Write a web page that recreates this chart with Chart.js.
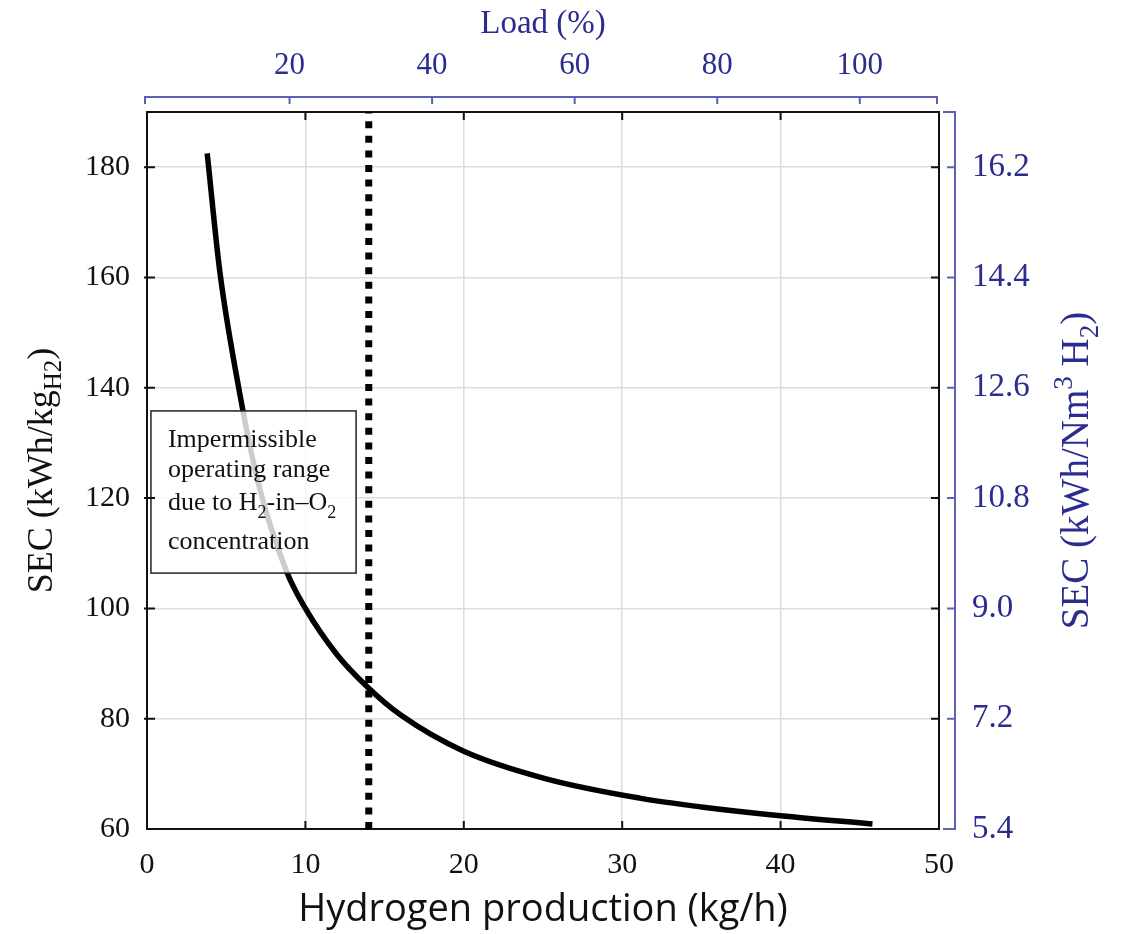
<!DOCTYPE html>
<html>
<head>
<meta charset="utf-8">
<script src="https://cdn.jsdelivr.net/npm/chart.js@4.4.1/dist/chart.umd.min.js"></script>
<style>
  html, body { margin: 0; padding: 0; background: #fff; }
  #wrap { width: 1127px; height: 934px; }
</style>
</head>
<body>
<div id="wrap"><canvas id="secChart" width="1127" height="934"></canvas></div>
<script>
// Datos (producción de H2 en kg/h y SEC en kWh/kg)
const prodKg = [3.8, 4.6, 5.7, 7.0, 8.8, 10.0, 12.0, 13.9, 16.0, 20.0, 25.2, 31.1, 35.0, 40.0, 45.8];
const secKg = [182.5, 161.0, 141.4, 123.0, 106.8, 100.0, 91.6, 85.8, 80.7, 74.1, 69.1, 65.6, 64.0, 62.4, 60.9];
const limitKg = 14; // límite por concentración de H2 en O2

// Ticks de los cuatro ejes
const xTicks = [0, 10, 20, 30, 40, 50];
const loadTicks = [20, 40, 60, 80, 100];
const secKgTicks = [60, 80, 100, 120, 140, 160, 180];
const secNmTicks = [5.4, 7.2, 9.0, 10.8, 12.6, 14.4, 16.2];

const xMin = 0, xMax = 50;
const yMin = 60, yMax = 190;
const kgAtFullLoad = 45;   // 100 % de carga
const kgToNm3 = 0.09;      // kWh/kg -> kWh/Nm3

const SERIF = "'Liberation Serif', 'Times New Roman', serif";
const BLUE_TXT = '#2b2d8e';
const BLUE_LINE = '#5d60b6';

function toTicks(list) {
    return list.map(v => ({ value: v }));
}

// Texto con subíndices / superíndices
function richText(ctx, parts, x, y, centered) {
    let total = 0;
    parts.forEach(p => {
        ctx.font = p.s + 'px ' + SERIF;
        p.w = ctx.measureText(p.t).width;
        total += p.w;
    });
    let cx = centered ? x - total / 2 : x;
    parts.forEach(p => {
        ctx.font = p.s + 'px ' + SERIF;
        ctx.fillText(p.t, cx, y + (p.dy || 0));
        cx += p.w;
    });
}

const decoPlugin = {
    id: 'deco',
    afterDatasetsDraw(chart) {
        const ctx = chart.ctx;
        const sx = chart.scales.x, sy = chart.scales.y;
        // caja de texto semitransparente
        const l = sx.getPixelForValue(0.25), r = sx.getPixelForValue(13.2);
        const t = sy.getPixelForValue(135.8), b = sy.getPixelForValue(106.4);
        ctx.save();
        ctx.fillStyle = 'rgba(255,255,255,0.8)';
        ctx.fillRect(l, t, r - l, b - t);
        ctx.strokeStyle = '#222';
        ctx.lineWidth = 1.5;
        ctx.strokeRect(l, t, r - l, b - t);
        ctx.fillStyle = '#111';
        ctx.textBaseline = 'alphabetic';
        const tx = l + 17;
        richText(ctx, [{ t: 'Impermissible', s: 26 }], tx, t + 36, false);
        richText(ctx, [{ t: 'operating range', s: 26 }], tx, t + 66, false);
        richText(ctx, [
            { t: 'due to H', s: 26 }, { t: '2', s: 18, dy: 8 },
            { t: '-in\u2013O', s: 26 }, { t: '2', s: 18, dy: 8 }
        ], tx, t + 99, false);
        richText(ctx, [{ t: 'concentration', s: 26 }], tx, t + 138, false);
        ctx.restore();
    },
    afterDraw(chart) {
        const ctx = chart.ctx;
        const area = chart.chartArea;
        const sx = chart.scales.x, sy = chart.scales.y;
        const sx2 = chart.scales.x2, sy2 = chart.scales.y2;
        ctx.save();

        // ticks interiores negros
        ctx.strokeStyle = '#111';
        ctx.lineWidth = 2;
        ctx.beginPath();
        xTicks.slice(1, -1).forEach(v => {
            const px = sx.getPixelForValue(v);
            ctx.moveTo(px, area.bottom); ctx.lineTo(px, area.bottom - 8);
            ctx.moveTo(px, area.top); ctx.lineTo(px, area.top + 8);
        });
        secKgTicks.slice(1).forEach(v => {
            const py = sy.getPixelForValue(v);
            ctx.moveTo(area.left - 3, py); ctx.lineTo(area.left + 8, py);
            ctx.moveTo(area.right, py); ctx.lineTo(area.right - 8, py);
        });
        ctx.stroke();

        // eje superior (carga) tipo corchete
        ctx.strokeStyle = BLUE_LINE;
        ctx.lineWidth = 2;
        const ty = area.top - 15;
        const xa = sx2.getPixelForValue(sx2.min) - 2, xb = sx2.getPixelForValue(sx2.max) - 2;
        ctx.beginPath();
        ctx.moveTo(xa, ty + 7); ctx.lineTo(xa, ty); ctx.lineTo(xb, ty); ctx.lineTo(xb, ty + 7);
        loadTicks.forEach(v => {
            const px = sx2.getPixelForValue(v);
            ctx.moveTo(px, ty); ctx.lineTo(px, ty + 7);
        });
        ctx.stroke();

        // eje derecho (kWh/Nm3) tipo corchete
        const rx = area.right + 16;
        const ya = sy2.getPixelForValue(sy2.max), yb = sy2.getPixelForValue(sy2.min);
        ctx.beginPath();
        ctx.moveTo(rx - 12, ya); ctx.lineTo(rx, ya); ctx.lineTo(rx, yb); ctx.lineTo(rx - 12, yb);
        secNmTicks.forEach(v => {
            const py = sy2.getPixelForValue(v);
            ctx.moveTo(rx - 8, py); ctx.lineTo(rx, py);
        });
        ctx.stroke();

        // títulos verticales con subíndices
        const cy = (area.top + area.bottom) / 2;
        ctx.textBaseline = 'alphabetic';
        ctx.fillStyle = '#111';
        ctx.save();
        ctx.translate(52, cy);
        ctx.rotate(-Math.PI / 2);
        richText(ctx, [{ t: 'SEC (kWh/kg', s: 36 }, { t: 'H2', s: 25, dy: 9 }, { t: ')', s: 36 }], 0, 0, true);
        ctx.restore();

        ctx.fillStyle = BLUE_TXT;
        ctx.save();
        ctx.translate(1088, cy);
        ctx.rotate(-Math.PI / 2);
        richText(ctx, [
            { t: 'SEC (kWh/Nm', s: 39 }, { t: '3', s: 27, dy: -16 },
            { t: ' H', s: 39 }, { t: '2', s: 27, dy: 10 }, { t: ')', s: 39 }
        ], 0, 0, true);
        ctx.restore();

        ctx.restore();
    }
};

const ctx = document.getElementById('secChart').getContext('2d');
const secChart = new Chart(ctx, {
    type: 'scatter',
    data: {
        datasets: [{
            data: prodKg.map((x, i) => ({ x: x, y: secKg[i] })),
            showLine: true,
            borderColor: '#000',
            borderWidth: 5.5,
            borderCapStyle: 'butt',
            pointRadius: 0,
            cubicInterpolationMode: 'monotone'
        }, {
            data: [{ x: limitKg, y: yMin }, { x: limitKg, y: yMax }],
            showLine: true,
            borderColor: '#000',
            borderWidth: 7,
            borderDash: [7, 7.6],
            borderCapStyle: 'butt',
            pointRadius: 0
        }]
    },
    options: {
        responsive: false,
        animation: false,
        devicePixelRatio: 1,
        layout: { padding: 0 },
        plugins: {
            legend: { display: false },
            tooltip: { enabled: false }
        },
        scales: {
            x: {
                type: 'linear', position: 'bottom', min: xMin, max: xMax,
                afterBuildTicks: s => { s.ticks = toTicks(xTicks); },
                afterFit: s => { s.height = 105; },
                grid: { color: '#dcdcdc', lineWidth: 1.5, drawTicks: false },
                border: { color: '#111', width: 2 },
                ticks: { font: { family: SERIF, size: 30 }, color: '#111', padding: 18, maxRotation: 0 },
                title: {
                    display: true, text: 'Hydrogen production (kg/h)',
                    font: { family: "'Open Sans', sans-serif", size: 38 }, color: '#111',
                    padding: { top: 0, bottom: 1 }
                }
            },
            x2: {
                type: 'linear', position: 'top', min: 0, max: xMax / kgAtFullLoad * 100,
                afterBuildTicks: s => { s.ticks = toTicks(loadTicks); },
                afterFit: s => { s.height = 112; },
                grid: { display: false, drawTicks: false },
                border: { color: '#111', width: 2 },
                ticks: { font: { family: SERIF, size: 31 }, color: BLUE_TXT, padding: 28, maxRotation: 0 },
                title: {
                    display: true, text: 'Load (%)',
                    font: { family: SERIF, size: 33 }, color: BLUE_TXT,
                    padding: { top: 5, bottom: 0 }
                }
            },
            y: {
                type: 'linear', position: 'left', min: yMin, max: yMax,
                afterBuildTicks: s => { s.ticks = toTicks(secKgTicks); },
                afterFit: s => { s.width = 147; },
                grid: { color: '#dcdcdc', lineWidth: 1.5, drawTicks: false },
                border: { color: '#111', width: 2 },
                ticks: { font: { family: SERIF, size: 30 }, color: '#111', padding: 17 }
            },
            y2: {
                type: 'linear', position: 'right', min: yMin * kgToNm3, max: yMax * kgToNm3,
                afterBuildTicks: s => { s.ticks = toTicks(secNmTicks); },
                afterFit: s => { s.width = 188; },
                grid: { display: false, drawTicks: false },
                border: { color: '#111', width: 2 },
                ticks: {
                    font: { family: SERIF, size: 33 }, color: BLUE_TXT, padding: 33,
                    callback: v => Number(v).toFixed(1)
                }
            }
        }
    },
    plugins: [decoPlugin]
});
</script>
</body>
</html>
